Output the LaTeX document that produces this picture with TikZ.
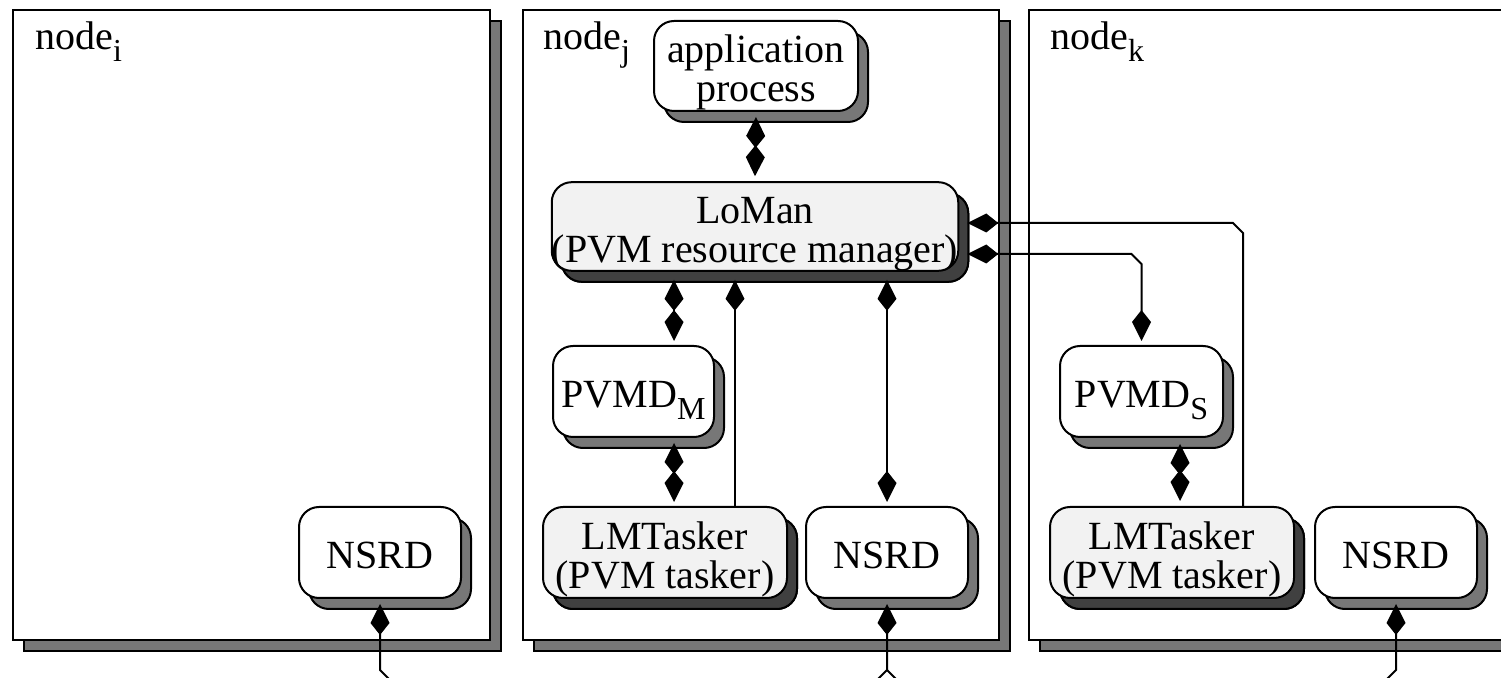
\documentclass[tikz,border=0pt]{standalone}
\usepackage{fontspec}
\setmainfont{Liberation Serif}
\usetikzlibrary{arrows.meta,shadows,calc}

\definecolor{shadowgray}{HTML}{777777}
\definecolor{shadowdark}{HTML}{404040}
\definecolor{boxgray}{HTML}{F2F2F2}

% lowered, smaller subscript in the text font (adds no depth)
\newcommand{\lowsub}[1]{\raisebox{-6pt}[\height][0pt]{\fontsize{16}{16}\selectfont #1}}
% invisible struts that push the text of a box a little down
\newcommand{\tallstrut}{\rule{0pt}{20.5pt}}
\newcommand{\onestrut}{\rule{0pt}{16pt}}

\begin{document}
\begin{tikzpicture}[x=0.5pt,y=-0.5pt,
  every node/.style={font=\fontsize{20}{19.5}\selectfont},
  panelshadow/.style={draw=black, line width=1pt, fill=shadowgray},
  panelbox/.style={draw=black, line width=1pt, fill=white},
  wbox/.style={draw=black, line width=1pt, fill=white, rounded corners=10pt,
    inner sep=0pt, align=center,
    drop shadow={shadow xshift=5pt, shadow yshift=-5.5pt, fill=shadowgray,
      draw=black, line width=1pt, opacity=1}},
  gbox/.style={wbox, fill=boxgray,
    drop shadow={shadow xshift=5pt, shadow yshift=-5.5pt, fill=shadowdark,
      draw=black, line width=1pt, opacity=1}},
  conn/.style={line width=1pt, >={Kite[length=15.5pt, width=9.5pt, inset=6pt]}},
  label/.style={anchor=base west, inner sep=0pt}
]
\clip (0,0) rectangle (1501,678);

% the three hosts
\draw[panelshadow] (24,21) rectangle (501,651);
\draw[panelbox] (13,10) rectangle (490,640);
\draw[panelshadow] (534,21) rectangle (1010,651);
\draw[panelbox] (523,10) rectangle (999,640);
\draw[panelshadow] (1040,21) rectangle (1530,651);
\draw[panelbox] (1029,10) rectangle (1520,640);

\node[label] (hosti) at (35,50) {node\lowsub{i}};
\node[label] (hostj) at (543,50) {node\lowsub{j}};
\node[label] (hostk) at (1050,50) {node\lowsub{k}};

% processes
\node[wbox, minimum width=102pt, minimum height=45pt] (app) at (756,66) {\tallstrut application\\process};
\node[gbox, minimum width=202pt, minimum height=43.5pt] (loman) at (755,226.5) {\tallstrut LoMan\\(PVM resource manager)};
\node[wbox, minimum width=80.5pt, minimum height=45.5pt] (pvmdm) at (633.5,391.5) {\onestrut PVMD\lowsub{M}};
\node[gbox, minimum width=122pt, minimum height=45.5pt] (ltj) at (665,552.5) {\tallstrut LMTasker\\(PVM tasker)};
\node[wbox, minimum width=81pt, minimum height=45.5pt] (nsrdj) at (887,552.5) {\onestrut NSRD};
\node[wbox, minimum width=81pt, minimum height=45.5pt] (nsrdi) at (380,552.5) {\onestrut NSRD};
\node[wbox, minimum width=81.5pt, minimum height=45.5pt] (pvmds) at (1141.5,391.5) {\onestrut PVMD\lowsub{S}};
\node[gbox, minimum width=122pt, minimum height=45.5pt] (ltk) at (1172,552.5) {\tallstrut LMTasker\\(PVM tasker)};
\node[wbox, minimum width=81pt, minimum height=45.5pt] (nsrdk) at (1396,552.5) {\onestrut NSRD};

% connector columns and rows
\coordinate (colA) at (674,0);
\coordinate (colB) at (735,0);
\coordinate (colC) at (1243,0);
\coordinate (colD) at (1180,0);
\coordinate (rowA) at (0,223);
\coordinate (rowB) at (0,254);
\coordinate (bus) at (0,670);

% connections inside node j
\draw[conn,<->] ($(app.south)+(0,5)$) -- ($(loman.north)+(0,-5)$);
\draw[conn,<->] ($(loman.south -| colA)+(0,8)$) -- ($(pvmdm.north -| colA)+(0,-4)$);
\draw[conn,<->] ($(pvmdm.south -| colA)+(0,5)$) -- ($(ltj.north -| colA)+(0,-4)$);
\draw[conn,->] (ltj.north -| colB) -- ($(loman.south -| colB)+(0,8)$);
\draw[conn,<->] ($(nsrdj.north |- loman.south)+(0,8)$) -- ($(nsrdj.north)+(0,-4)$);

% connections to node k
\draw[conn,->] (ltk.north -| colC) -- ($(colC |- rowA)+(0,10)$) -- ($(colC |- rowA)+(-10,0)$)
  -- ($(loman.east |- rowA)+(8,0)$);
\draw[conn,<->] ($(loman.east |- rowB)+(8,0)$) -- ($(pvmds.north |- rowB)+(-10,0)$)
  -- ($(pvmds.north |- rowB)+(0,10)$) -- ($(pvmds.north)+(0,-4)$);
\draw[conn,<->] ($(pvmds.south -| colD)+(0,6)$) -- ($(ltk.north -| colD)+(0,-5)$);

% name server daemons to the network
\coordinate (busi) at ($(nsrdi.south |- bus)+(14,14)$);
\coordinate (busjl) at ($(nsrdj.south |- bus)+(-14,14)$);
\coordinate (busjr) at ($(nsrdj.south |- bus)+(14,14)$);
\coordinate (busk) at ($(nsrdk.south |- bus)+(-14,14)$);
\draw[conn,<-] ($(nsrdi.south)+(0,5)$) -- (nsrdi.south |- bus) -- (busi);
\draw[conn,<-] ($(nsrdj.south)+(0,5)$) -- (nsrdj.south |- bus) -- (busjl);
\draw[conn] (nsrdj.south |- bus) -- (busjr);
\draw[conn,<-] ($(nsrdk.south)+(0,5)$) -- (nsrdk.south |- bus) -- (busk);
\end{tikzpicture}
\end{document}
